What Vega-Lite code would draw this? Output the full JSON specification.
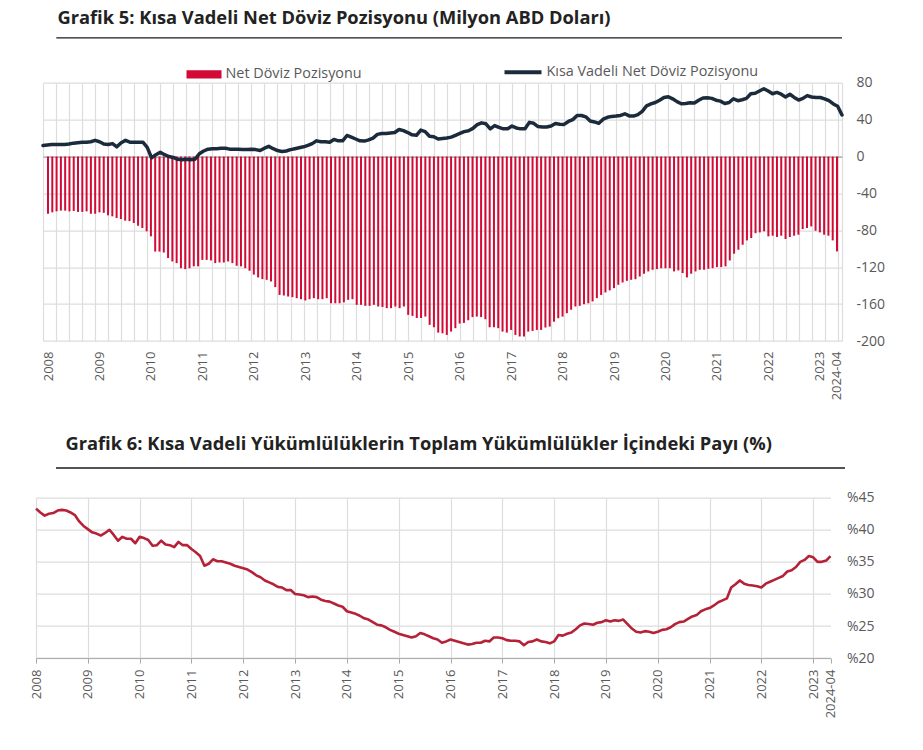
{
  "$schema": "https://vega.github.io/schema/vega-lite/v6.json",
  "padding": {"left": 30, "top": 8.7, "right": 5, "bottom": 5},
  "background": "white",
  "config": {
    "view": {"stroke": null},
    "font": "Open Sans",
    "axis": {"labelFont": "Open Sans", "labelFontSize": 13, "labelColor": "#595959", "labelOverlap": false, "labelFlush": false, "labelBound": false},
    "legend": {"labelFont": "Open Sans", "labelFontSize": 14.4, "labelColor": "#595959", "labelLimit": 400}
  },
  "datasets": {
    "seri": [
      {"idx":0,"net":-62,"kisa":12,"pay":43.3},
      {"idx":1,"net":-60.5,"kisa":12.5,"pay":42.7},
      {"idx":2,"net":-59.4,"kisa":13,"pay":42.2},
      {"idx":3,"net":-58.6,"kisa":13,"pay":42.5},
      {"idx":4,"net":-58.6,"kisa":13,"pay":42.6},
      {"idx":5,"net":-59.4,"kisa":13,"pay":43.0},
      {"idx":6,"net":-59,"kisa":13.5,"pay":43.1},
      {"idx":7,"net":-60,"kisa":14.5,"pay":43.0},
      {"idx":8,"net":-60,"kisa":15,"pay":42.7},
      {"idx":9,"net":-59.4,"kisa":15.5,"pay":42.3},
      {"idx":10,"net":-62,"kisa":15.5,"pay":41.3},
      {"idx":11,"net":-62,"kisa":16,"pay":40.6},
      {"idx":12,"net":-60.5,"kisa":17.5,"pay":40.1},
      {"idx":13,"net":-61,"kisa":16,"pay":39.6},
      {"idx":14,"net":-63.7,"kisa":13.5,"pay":39.4},
      {"idx":15,"net":-64.8,"kisa":13,"pay":39.1},
      {"idx":16,"net":-66.6,"kisa":14,"pay":39.5},
      {"idx":17,"net":-67.7,"kisa":10.5,"pay":40.0},
      {"idx":18,"net":-69.5,"kisa":15,"pay":39.2},
      {"idx":19,"net":-70,"kisa":17.5,"pay":38.3},
      {"idx":20,"net":-72,"kisa":15.6,"pay":38.9},
      {"idx":21,"net":-75,"kisa":15.6,"pay":38.6},
      {"idx":22,"net":-77.5,"kisa":15.6,"pay":38.6},
      {"idx":23,"net":-81,"kisa":15.5,"pay":37.9},
      {"idx":24,"net":-86.5,"kisa":10,"pay":38.9},
      {"idx":25,"net":-103,"kisa":-1.5,"pay":38.7},
      {"idx":26,"net":-103,"kisa":2,"pay":38.4},
      {"idx":27,"net":-104,"kisa":4.7,"pay":37.5},
      {"idx":28,"net":-110,"kisa":2,"pay":37.6},
      {"idx":29,"net":-113.7,"kisa":0,"pay":38.3},
      {"idx":30,"net":-115.5,"kisa":-1,"pay":37.7},
      {"idx":31,"net":-121,"kisa":-3,"pay":37.6},
      {"idx":32,"net":-122,"kisa":-3.5,"pay":37.3},
      {"idx":33,"net":-121,"kisa":-3,"pay":38.1},
      {"idx":34,"net":-119,"kisa":-3.5,"pay":37.6},
      {"idx":35,"net":-119,"kisa":-3,"pay":37.6},
      {"idx":36,"net":-112,"kisa":3,"pay":37.0},
      {"idx":37,"net":-112,"kisa":6,"pay":36.5},
      {"idx":38,"net":-112.6,"kisa":8,"pay":35.9},
      {"idx":39,"net":-115.5,"kisa":8.5,"pay":34.4},
      {"idx":40,"net":-114.8,"kisa":8.5,"pay":34.7},
      {"idx":41,"net":-114.8,"kisa":9,"pay":35.4},
      {"idx":42,"net":-113.7,"kisa":9,"pay":35.1},
      {"idx":43,"net":-115.5,"kisa":8,"pay":35.1},
      {"idx":44,"net":-118.4,"kisa":7.8,"pay":34.9},
      {"idx":45,"net":-119,"kisa":7.8,"pay":34.7},
      {"idx":46,"net":-121,"kisa":7.5,"pay":34.4},
      {"idx":47,"net":-123.8,"kisa":7.5,"pay":34.2},
      {"idx":48,"net":-128,"kisa":8,"pay":34.0},
      {"idx":49,"net":-131,"kisa":7.5,"pay":33.8},
      {"idx":50,"net":-132.9,"kisa":6.5,"pay":33.4},
      {"idx":51,"net":-133.6,"kisa":9,"pay":32.9},
      {"idx":52,"net":-135.4,"kisa":11,"pay":32.6},
      {"idx":53,"net":-141.5,"kisa":8.5,"pay":32.1},
      {"idx":54,"net":-150,"kisa":6.5,"pay":31.8},
      {"idx":55,"net":-150.6,"kisa":5.5,"pay":31.5},
      {"idx":56,"net":-151.7,"kisa":6,"pay":31.1},
      {"idx":57,"net":-152.4,"kisa":7.5,"pay":31.0},
      {"idx":58,"net":-153.5,"kisa":8.5,"pay":30.6},
      {"idx":59,"net":-154.6,"kisa":9.5,"pay":30.6},
      {"idx":60,"net":-156,"kisa":10.5,"pay":30.0},
      {"idx":61,"net":-154.6,"kisa":12,"pay":29.9},
      {"idx":62,"net":-153.5,"kisa":14,"pay":29.8},
      {"idx":63,"net":-154.6,"kisa":17,"pay":29.5},
      {"idx":64,"net":-154.6,"kisa":16,"pay":29.6},
      {"idx":65,"net":-153.5,"kisa":16,"pay":29.5},
      {"idx":66,"net":-159,"kisa":15.5,"pay":29.1},
      {"idx":67,"net":-159,"kisa":18.5,"pay":28.9},
      {"idx":68,"net":-159,"kisa":17,"pay":28.8},
      {"idx":69,"net":-158,"kisa":17,"pay":28.5},
      {"idx":70,"net":-155.3,"kisa":22.8,"pay":28.2},
      {"idx":71,"net":-154.6,"kisa":21,"pay":28.0},
      {"idx":72,"net":-160.7,"kisa":19,"pay":27.3},
      {"idx":73,"net":-160.7,"kisa":17,"pay":27.1},
      {"idx":74,"net":-161.8,"kisa":16.7,"pay":26.9},
      {"idx":75,"net":-161.8,"kisa":18,"pay":26.6},
      {"idx":76,"net":-160.7,"kisa":20,"pay":26.2},
      {"idx":77,"net":-162.5,"kisa":24,"pay":26.0},
      {"idx":78,"net":-163,"kisa":25,"pay":25.6},
      {"idx":79,"net":-164.3,"kisa":25,"pay":25.2},
      {"idx":80,"net":-164.3,"kisa":25.5,"pay":25.1},
      {"idx":81,"net":-162.5,"kisa":26,"pay":24.8},
      {"idx":82,"net":-164.3,"kisa":29.3,"pay":24.4},
      {"idx":83,"net":-162.5,"kisa":28,"pay":24.1},
      {"idx":84,"net":-171.6,"kisa":26,"pay":23.8},
      {"idx":85,"net":-172.7,"kisa":23.5,"pay":23.6},
      {"idx":86,"net":-175,"kisa":23,"pay":23.4},
      {"idx":87,"net":-175,"kisa":28.6,"pay":23.2},
      {"idx":88,"net":-173.4,"kisa":27,"pay":23.4},
      {"idx":89,"net":-182.4,"kisa":22,"pay":23.9},
      {"idx":90,"net":-185,"kisa":21.5,"pay":23.7},
      {"idx":91,"net":-190.8,"kisa":19,"pay":23.4},
      {"idx":92,"net":-191.5,"kisa":19.5,"pay":23.1},
      {"idx":93,"net":-193.3,"kisa":20,"pay":22.9},
      {"idx":94,"net":-189.7,"kisa":21,"pay":22.4},
      {"idx":95,"net":-186,"kisa":23,"pay":22.6},
      {"idx":96,"net":-181,"kisa":25,"pay":22.9},
      {"idx":97,"net":-180.3,"kisa":27,"pay":22.7},
      {"idx":98,"net":-177.4,"kisa":28,"pay":22.5},
      {"idx":99,"net":-174,"kisa":30.5,"pay":22.3},
      {"idx":100,"net":-173.4,"kisa":34.5,"pay":22.1},
      {"idx":101,"net":-174,"kisa":36.5,"pay":22.2},
      {"idx":102,"net":-176.3,"kisa":35.5,"pay":22.4},
      {"idx":103,"net":-185,"kisa":30,"pay":22.4},
      {"idx":104,"net":-185,"kisa":33.5,"pay":22.7},
      {"idx":105,"net":-186,"kisa":31.5,"pay":22.6},
      {"idx":106,"net":-189.7,"kisa":30,"pay":23.2},
      {"idx":107,"net":-190.8,"kisa":30,"pay":23.2},
      {"idx":108,"net":-187.9,"kisa":33,"pay":23.1},
      {"idx":109,"net":-193.3,"kisa":31,"pay":22.8},
      {"idx":110,"net":-195,"kisa":30,"pay":22.7},
      {"idx":111,"net":-195,"kisa":30,"pay":22.7},
      {"idx":112,"net":-189.7,"kisa":37,"pay":22.6},
      {"idx":113,"net":-189,"kisa":36,"pay":22.0},
      {"idx":114,"net":-187.9,"kisa":32.5,"pay":22.5},
      {"idx":115,"net":-187.9,"kisa":32,"pay":22.6},
      {"idx":116,"net":-185.3,"kisa":32,"pay":22.9},
      {"idx":117,"net":-184.3,"kisa":33,"pay":22.6},
      {"idx":118,"net":-179,"kisa":35.8,"pay":22.5},
      {"idx":119,"net":-175.2,"kisa":35,"pay":22.3},
      {"idx":120,"net":-173.4,"kisa":34.8,"pay":22.6},
      {"idx":121,"net":-169.8,"kisa":38,"pay":23.6},
      {"idx":122,"net":-166,"kisa":40,"pay":23.5},
      {"idx":123,"net":-162.5,"kisa":44.5,"pay":23.8},
      {"idx":124,"net":-161.8,"kisa":44.5,"pay":24.0},
      {"idx":125,"net":-160,"kisa":43,"pay":24.5},
      {"idx":126,"net":-159,"kisa":38.4,"pay":25.1},
      {"idx":127,"net":-157,"kisa":37.5,"pay":25.4},
      {"idx":128,"net":-153.5,"kisa":36,"pay":25.3},
      {"idx":129,"net":-150,"kisa":40.5,"pay":25.2},
      {"idx":130,"net":-147.3,"kisa":42.5,"pay":25.5},
      {"idx":131,"net":-145,"kisa":43.5,"pay":25.6},
      {"idx":132,"net":-142.6,"kisa":43.8,"pay":25.9},
      {"idx":133,"net":-139,"kisa":44.5,"pay":25.7},
      {"idx":134,"net":-136.5,"kisa":46.3,"pay":25.9},
      {"idx":135,"net":-134.7,"kisa":44,"pay":25.8},
      {"idx":136,"net":-133.6,"kisa":43.8,"pay":26.0},
      {"idx":137,"net":-132.9,"kisa":45.5,"pay":25.3},
      {"idx":138,"net":-130,"kisa":49,"pay":24.6},
      {"idx":139,"net":-127,"kisa":55,"pay":24.1},
      {"idx":140,"net":-124.5,"kisa":57,"pay":24.0},
      {"idx":141,"net":-122.7,"kisa":58.5,"pay":24.2},
      {"idx":142,"net":-122,"kisa":61,"pay":24.1},
      {"idx":143,"net":-121,"kisa":64,"pay":23.9},
      {"idx":144,"net":-121,"kisa":64.8,"pay":24.1},
      {"idx":145,"net":-121,"kisa":62.5,"pay":24.4},
      {"idx":146,"net":-124.5,"kisa":59.5,"pay":24.5},
      {"idx":147,"net":-123.4,"kisa":57.2,"pay":24.8},
      {"idx":148,"net":-126.3,"kisa":57.5,"pay":25.3},
      {"idx":149,"net":-131,"kisa":58.3,"pay":25.6},
      {"idx":150,"net":-127,"kisa":58,"pay":25.7},
      {"idx":151,"net":-124.5,"kisa":61,"pay":26.1},
      {"idx":152,"net":-122.7,"kisa":63.5,"pay":26.5},
      {"idx":153,"net":-122.7,"kisa":63.7,"pay":26.7},
      {"idx":154,"net":-121.6,"kisa":63,"pay":27.3},
      {"idx":155,"net":-121,"kisa":61,"pay":27.6},
      {"idx":156,"net":-119.8,"kisa":60,"pay":27.8},
      {"idx":157,"net":-119.8,"kisa":57.5,"pay":28.2},
      {"idx":158,"net":-119,"kisa":58.5,"pay":28.7},
      {"idx":159,"net":-112.6,"kisa":62.6,"pay":29.0},
      {"idx":160,"net":-105.3,"kisa":60.5,"pay":29.3},
      {"idx":161,"net":-101,"kisa":61.5,"pay":31.0},
      {"idx":162,"net":-95.6,"kisa":63,"pay":31.5},
      {"idx":163,"net":-90.9,"kisa":68,"pay":32.1},
      {"idx":164,"net":-88.3,"kisa":68.5,"pay":31.6},
      {"idx":165,"net":-83,"kisa":71,"pay":31.4},
      {"idx":166,"net":-82.2,"kisa":73.5,"pay":31.3},
      {"idx":167,"net":-81,"kisa":71,"pay":31.2},
      {"idx":168,"net":-86.5,"kisa":68,"pay":31.0},
      {"idx":169,"net":-85.8,"kisa":69.5,"pay":31.6},
      {"idx":170,"net":-87.2,"kisa":67.5,"pay":31.9},
      {"idx":171,"net":-85.8,"kisa":64.5,"pay":32.2},
      {"idx":172,"net":-89.4,"kisa":67.5,"pay":32.5},
      {"idx":173,"net":-87.2,"kisa":64,"pay":32.8},
      {"idx":174,"net":-85.8,"kisa":61.2,"pay":33.5},
      {"idx":175,"net":-84.7,"kisa":63,"pay":33.7},
      {"idx":176,"net":-78.6,"kisa":66,"pay":34.2},
      {"idx":177,"net":-77.5,"kisa":64.5,"pay":35.0},
      {"idx":178,"net":-75.7,"kisa":64,"pay":35.3},
      {"idx":179,"net":-80.4,"kisa":64,"pay":35.9},
      {"idx":180,"net":-82.2,"kisa":62.5,"pay":35.7},
      {"idx":181,"net":-84.7,"kisa":60.5,"pay":35.0},
      {"idx":182,"net":-85.8,"kisa":57,"pay":35.0},
      {"idx":183,"net":-90.9,"kisa":54.5,"pay":35.2},
      {"idx":184,"net":-102.8,"kisa":45,"pay":35.9}
    ]
  },
  "data": {"name": "seri"},
  "spacing": 33,
  "vconcat": [
    {
      "bounds": "flush",
      "spacing": 0,
      "hconcat": [
        {
          "width": 7,
          "height": 258.4,
          "mark": {"type": "rect", "opacity": 0},
          "encoding": {}
        },
        {
          "width": 799,
          "height": 258.4,
          "title": {
            "text": "Grafik 5: Kısa Vadeli Net Döviz Pozisyonu (Milyon ABD Doları)",
            "anchor": "start",
            "frame": "group",
            "baseline": "alphabetic",
            "dx": 14.5,
            "offset": -5,
            "font": "Open Sans",
            "fontSize": 18.3,
            "fontWeight": "bold",
            "color": "#222222"
          },
          "resolve": {"scale": {"x": "independent"}, "axis": {"x": "independent"}},
          "layer": [
            {
              "resolve": {"scale": {"x": "independent"}, "axis": {"x": "independent"}},
              "layer": [
                {
                  "mark": {"type": "bar", "size": 2},
                  "encoding": {
                    "x": {
                      "field": "idx",
                      "type": "quantitative",
                      "scale": {"domain": [0, 184], "nice": false, "zero": false},
                      "axis": {
                        "title": null,
                        "values": [0,12,24,36,48,60,72,84,96,108,120,132,144,156,168,180,184],
                        "labelExpr": "datum.value == 184 ? '2024-04' : '' + (2008 + datum.value / 12)",
                        "labelAngle": -90,
                        "labelAlign": "right",
                        "labelBaseline": "middle",
                        "labelPadding": 10,
                        "labelOverlap": false,
                        "ticks": false,
                        "domain": false,
                        "grid": false
                      }
                    },
                    "y": {
                      "field": "net",
                      "type": "quantitative",
                      "scale": {"domain": [-200, 80], "nice": false},
                      "axis": {
                        "orient": "right",
                        "title": null,
                        "values": [-200, -160, -120, -80, -40, 0, 40, 80],
                        "labelExpr": "'' + datum.value",
                        "labelFontSize": 14,
                        "labelPadding": 14,
                        "labelOverlap": false,
                        "ticks": false,
                        "domain": false,
                        "grid": true,
                        "gridColor": {"condition": {"test": "datum.value === 0", "value": "#9a9a9a"}, "value": "#dddddd"},
                        "gridWidth": 1.3
                      }
                    },
                    "fill": {
                      "datum": "Net Döviz Pozisyonu",
                      "type": "nominal",
                      "scale": {"range": ["#d20a35"]},
                      "legend": {
                        "title": null,
                        "orient": "none",
                        "legendX": 150.5,
                        "legendY": -25.8,
                        "padding": 0,
                        "symbolType": "M-1,-0.23H1V0.23H-1Z",
                        "symbolSize": 1225,
                        "symbolStrokeWidth": 0,
                        "labelOffset": 4
                      }
                    }
                  }
                },
                {
                  "mark": {"type": "line", "strokeWidth": 3.5, "strokeJoin": "round", "strokeCap": "round"},
                  "encoding": {
                    "x": {
                      "field": "idx",
                      "type": "quantitative",
                      "scale": {"domain": [0, 184], "nice": false, "zero": false},
                      "axis": {
                        "title": null,
                        "values": [0,3,6,9,12,15,18,21,24,27,30,33,36,39,42,45,48,51,54,57,60,63,66,69,72,75,78,81,84,87,90,93,96,99,102,105,108,111,114,117,120,123,126,129,132,135,138,141,144,147,150,153,156,159,162,165,168,171,174,177,180,183,184],
                        "labels": false,
                        "ticks": false,
                        "domain": false,
                        "grid": true,
                        "gridColor": "#dddddd",
                        "gridWidth": 1.2
                      }
                    },
                    "y": {
                      "field": "kisa",
                      "type": "quantitative",
                      "scale": {"domain": [-200, 80], "nice": false},
                      "axis": {
                        "orient": "right",
                        "title": null,
                        "values": [-200, -160, -120, -80, -40, 0, 40, 80],
                        "labelExpr": "'' + datum.value",
                        "labelFontSize": 14,
                        "labelPadding": 14,
                        "labelOverlap": false,
                        "ticks": false,
                        "domain": false,
                        "grid": true,
                        "gridColor": {"condition": {"test": "datum.value === 0", "value": "#9a9a9a"}, "value": "#dddddd"},
                        "gridWidth": 1.3
                      }
                    },
                    "stroke": {
                      "datum": "Kısa Vadeli Net Döviz Pozisyonu",
                      "type": "nominal",
                      "scale": {"range": ["#1c2b3c"]},
                      "legend": {
                        "title": null,
                        "orient": "none",
                        "legendX": 466.5,
                        "legendY": -31,
                        "padding": 0,
                        "symbolType": "stroke",
                        "symbolSize": 1369,
                        "symbolStrokeWidth": 4,
                        "labelOffset": 3
                      }
                    }
                  }
                }
              ]
            },
            {
              "mark": {"type": "point", "opacity": 0},
              "encoding": {
                "x": {
                  "field": "idx",
                  "type": "quantitative",
                  "scale": {"domain": [0, 184], "nice": false, "zero": false, "range": [12.8, 798.5]},
                  "axis": {"orient": "top", "offset": 45.3, "title": null, "labels": false, "ticks": false, "grid": false, "domainColor": "#1a1a1a", "domainWidth": 1.3}
                },
                "y": {
                  "field": "net",
                  "type": "quantitative",
                  "scale": {"domain": [-200, 80], "nice": false},
                  "axis": {
                    "orient": "right",
                    "title": null,
                    "values": [-200, -160, -120, -80, -40, 0, 40, 80],
                    "labelExpr": "'' + datum.value",
                    "labelFontSize": 14,
                    "labelPadding": 14,
                    "labelOverlap": false,
                    "ticks": false,
                    "domain": false,
                    "grid": true,
                    "gridColor": {"condition": {"test": "datum.value === 0", "value": "#9a9a9a"}, "value": "#dddddd"},
                    "gridWidth": 1.3
                  }
                }
              }
            }
          ]
        }
      ]
    },
    {
      "width": 794.5,
      "height": 160.4,
      "title": {
        "text": "Grafik 6: Kısa Vadeli Yükümlülüklerin Toplam Yükümlülükler İçindeki Payı (%)",
        "anchor": "start",
        "frame": "group",
        "baseline": "alphabetic",
        "dx": 29.5,
        "offset": -0.4,
        "font": "Open Sans",
        "fontSize": 18.3,
        "fontWeight": "bold",
        "color": "#222222"
      },
      "resolve": {"scale": {"x": "independent"}, "axis": {"x": "independent"}},
      "layer": [
        {
          "mark": {"type": "line", "color": "#b52238", "strokeWidth": 2.6, "strokeJoin": "round"},
          "encoding": {
            "x": {
              "field": "idx",
              "type": "quantitative",
              "scale": {"domain": [0, 184], "nice": false, "zero": false},
              "axis": {
                "title": null,
                "values": [0,12,24,36,48,60,72,84,96,108,120,132,144,156,168,180,184],
                "labelExpr": "datum.value == 184 ? '2024-04' : '' + (2008 + datum.value / 12)",
                "labelAngle": -90,
                "labelAlign": "right",
                "labelBaseline": "middle",
                "labelPadding": 6,
                "labelOverlap": false,
                "ticks": true,
                "tickSize": 5,
                "tickColor": "#aaaaaa",
                "domain": true,
                "domainColor": "#aaaaaa",
                "grid": true,
                "gridColor": {"condition": {"test": "datum.value == 184", "value": "transparent"}, "value": "#dddddd"},
                "gridWidth": 1.2
              }
            },
            "y": {
              "field": "pay",
              "type": "quantitative",
              "scale": {"domain": [20, 45], "nice": false, "zero": false},
              "axis": {
                "orient": "right",
                "title": null,
                "values": [20, 25, 30, 35, 40, 45],
                "labelExpr": "'%' + datum.value",
                "labelFontSize": 14,
                "labelPadding": 16,
                "labelOverlap": false,
                "ticks": false,
                "domain": false,
                "grid": true,
                "gridColor": "#dddddd",
                "gridWidth": 1.3
              }
            }
          }
        },
        {
          "mark": {"type": "point", "opacity": 0},
          "encoding": {
            "x": {
              "field": "idx",
              "type": "quantitative",
              "scale": {"domain": [0, 184], "nice": false, "zero": false, "range": [19.5, 808.5]},
              "axis": {"orient": "top", "offset": 30.2, "title": null, "labels": false, "ticks": false, "grid": false, "domainColor": "#1a1a1a", "domainWidth": 1.3}
            },
            "y": {
              "field": "pay",
              "type": "quantitative",
              "scale": {"domain": [20, 45], "nice": false, "zero": false},
              "axis": {
                "orient": "right",
                "title": null,
                "values": [20, 25, 30, 35, 40, 45],
                "labelExpr": "'%' + datum.value",
                "labelFontSize": 14,
                "labelPadding": 16,
                "labelOverlap": false,
                "ticks": false,
                "domain": false,
                "grid": true,
                "gridColor": "#dddddd",
                "gridWidth": 1.3
              }
            }
          }
        }
      ]
    }
  ]
}
